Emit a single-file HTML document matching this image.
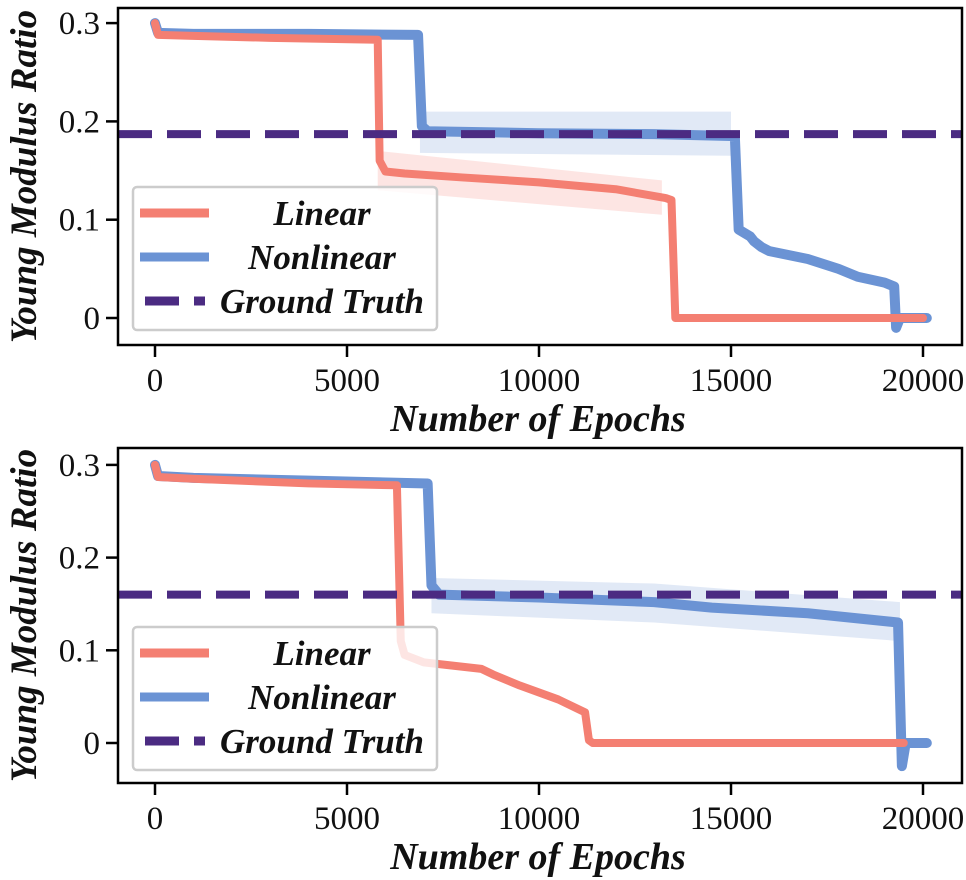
<!DOCTYPE html>
<html><head><meta charset="utf-8"><style>
html,body{margin:0;padding:0;background:#fff;width:966px;height:880px;overflow:hidden}
svg text{font-family:"Liberation Serif","DejaVu Serif",serif}
</style></head><body>
<svg id="chart" width="966" height="880" xmlns="http://www.w3.org/2000/svg"></svg>
<script>
// ---- data ----
const xTicks=[0,5000,10000,15000,20000];
const yTicks=[0,0.1,0.2,0.3];
const yTickLabels=["0","0.1","0.2","0.3"];
const seriesNames=["Linear","Nonlinear","Ground Truth"];
// top panel
const topLinearX=[0,80,1000,3000,5800,5850,6000,6500,8000,10000,12000,13300,13450,13550,20000];
const topLinearY=[0.30,0.288,0.287,0.285,0.283,0.16,0.149,0.147,0.143,0.138,0.131,0.122,0.12,0,0];
const topLinearBandX=[5800,13200];
const topLinearBandLo=[0.13,0.105];
const topLinearBandHi=[0.17,0.14];
const topNonX=[0,80,1000,4000,6850,6950,7100,10000,13000,15100,15200,15500,15600,15800,16000,17000,17800,18300,19000,19250,19300,19400,20100];
const topNonY=[0.30,0.29,0.289,0.289,0.288,0.195,0.19,0.188,0.187,0.185,0.09,0.083,0.078,0.072,0.068,0.06,0.05,0.042,0.036,0.032,-0.01,0,0];
const topNonBandX=[6900,15000];
const topNonBandLo=[0.168,0.165];
const topNonBandHi=[0.21,0.21];
const topTruth=0.187;
// bottom panel
const botLinearX=[0,80,1000,4000,6300,6400,6500,7000,8500,8800,9500,10500,11200,11300,11400,19500];
const botLinearY=[0.30,0.287,0.285,0.28,0.278,0.11,0.095,0.087,0.08,0.074,0.062,0.047,0.033,0.003,0,0];
const botNonX=[0,80,1000,4000,7100,7200,7400,10000,13000,14500,17000,19350,19450,19550,20100];
const botNonY=[0.30,0.288,0.286,0.283,0.28,0.17,0.16,0.157,0.152,0.146,0.14,0.13,-0.025,0,0];
const botNonBandX=[7200,13000,19400];
const botNonBandLo=[0.14,0.13,0.11];
const botNonBandHi=[0.178,0.172,0.152];
const botTruth=0.16;

const NS="http://www.w3.org/2000/svg";
const svg=document.getElementById('chart');
const FF='"Liberation Serif","DejaVu Serif",serif';
function el(t,a,p){const e=document.createElementNS(NS,t);for(const k in a)e.setAttribute(k,a[k]);(p||svg).appendChild(e);return e;}
const RED="#f47f72",BLUE="#6b93d4",PURPLE="#4b2b82";

function panel(cfg){
  const g=el('g',{});
  
  
  const sx=v=>cfg.x0+v*cfg.kx;
  const sy=v=>cfg.y0-v*cfg.ky;
  const clip='clip-'+cfg.name;
  const cp=el('clipPath',{id:clip},g);
  el('rect',{x:cfg.L,y:cfg.T,width:cfg.R-cfg.L,height:cfg.B-cfg.T},cp);
  const plot=el('g',{'clip-path':'url(#'+clip+')'},g);
  function band(xs,lo,hi,color,name){
    let d='M'+xs.map((x,i)=>sx(x)+','+sy(hi[i])).join('L');
    for(let i=xs.length-1;i>=0;i--)d+='L'+sx(xs[i])+','+sy(lo[i]);
    const p=el('path',{d:d+'Z',fill:color,opacity:0.2},plot);
    
    
  }
  function line(xs,ys,color,w,name){
    const p=el('path',{d:'M'+xs.map((x,i)=>sx(x)+','+sy(ys[i])).join('L'),fill:'none',stroke:color,'stroke-width':w,'stroke-linejoin':'round','stroke-linecap':'round'},plot);
    
    
  }
  if(cfg.lb)band(cfg.lb[0],cfg.lb[1],cfg.lb[2],RED,'linear-band');
  band(cfg.nb[0],cfg.nb[1],cfg.nb[2],BLUE,'nonlinear-band');
  line(cfg.nx,cfg.ny,BLUE,10,'nonlinear-line');
  line(cfg.lx,cfg.ly,RED,8,'linear-line');
  const gt=el('line',{x1:cfg.L,x2:cfg.R,y1:sy(cfg.truth),y2:sy(cfg.truth),stroke:PURPLE,'stroke-width':8,'stroke-dasharray':'34,15'},plot);
  
  
  const fr=el('rect',{x:cfg.L,y:cfg.T,width:cfg.R-cfg.L,height:cfg.B-cfg.T,fill:'none',stroke:'#000','stroke-width':2.5},g);
  
  
  xTicks.forEach(v=>{
    el('line',{x1:sx(v),x2:sx(v),y1:cfg.B,y2:cfg.B+12,stroke:'#000','stroke-width':2.5},g);
    const t=el('text',{x:sx(v),y:cfg.B+46,'text-anchor':'middle','font-size':33,'font-family':FF,fill:'#111'},g);
    t.textContent=v;
    
    
  });
  yTicks.forEach((v,i)=>{
    el('line',{x1:cfg.L-12,x2:cfg.L,y1:sy(v),y2:sy(v),stroke:'#000','stroke-width':2.5},g);
    const t=el('text',{x:cfg.L-18,y:sy(v)+11,'text-anchor':'end','font-size':33,'font-family':FF,fill:'#111'},g);
    t.textContent=yTickLabels[i];
    
    
  });
  const xt=el('text',{x:538,y:cfg.B+86,'text-anchor':'middle','font-size':38,'font-weight':'bold','font-style':'italic','font-family':FF,fill:'#111'},g);
  xt.textContent='Number of Epochs';
  
  
  const yt=el('text',{x:0,y:0,'text-anchor':'middle','font-size':37,'font-weight':'bold','font-style':'italic','font-family':FF,fill:'#111',transform:'translate(36,'+((cfg.T+cfg.B)/2)+') rotate(-90)'},g);
  yt.textContent='Young Modulus Ratio';
  
  
  // legend
  const lg=el('g',{},g);
  
  
  const ly=cfg.legY;
  el('rect',{x:133,y:ly,width:304,height:143,rx:4,fill:'rgba(255,255,255,0.8)',stroke:'#ccc','stroke-width':2.5},lg);
  const cols=[RED,BLUE,PURPLE];
  seriesNames.forEach((n,i)=>{
    const yy=ly+26+i*44;
    const ent=el('g',{},lg);
    
    
    if(i<2)el('line',{x1:140,x2:209,y1:yy,y2:yy,stroke:cols[i],'stroke-width':9},ent);
    else el('line',{x1:145,x2:205,y1:yy,y2:yy,stroke:cols[i],'stroke-width':9,'stroke-dasharray':'34,15'},ent);
    const t=el('text',{x:322,y:yy+12,'text-anchor':'middle','font-size':35,'font-weight':'bold','font-style':'italic','font-family':FF,fill:'#111'},ent);
    t.textContent=n;
  });
}
panel({name:'top-panel',L:118,R:962,T:8,B:345,x0:155,kx:0.0384,y0:318,ky:983,
  lx:topLinearX,ly:topLinearY,nx:topNonX,ny:topNonY,
  lb:[topLinearBandX,topLinearBandLo,topLinearBandHi],nb:[topNonBandX,topNonBandLo,topNonBandHi],
  truth:topTruth,legY:187});
panel({name:'bottom-panel',L:118,R:962,T:448,B:783,x0:155,kx:0.0384,y0:743,ky:927,
  lx:botLinearX,ly:botLinearY,nx:botNonX,ny:botNonY,
  lb:null,nb:[botNonBandX,botNonBandLo,botNonBandHi],
  truth:botTruth,legY:627});
</script>
</body></html>
